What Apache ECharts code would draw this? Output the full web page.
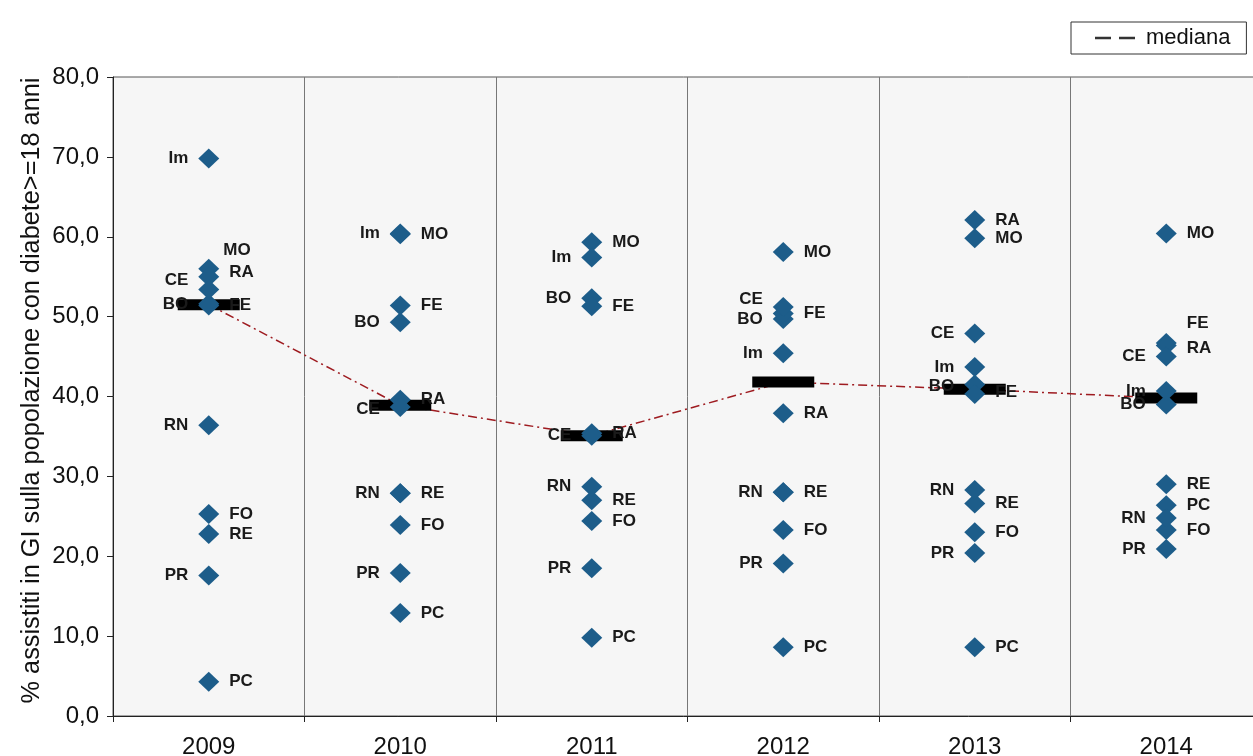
<!DOCTYPE html>
<html>
<head>
<meta charset="utf-8">
<script src="https://cdn.jsdelivr.net/npm/echarts@6/dist/echarts.min.js"></script>
<style>
html,body{margin:0;padding:0;background:#fff;overflow:hidden;}
#chart{width:1253px;height:756px;}
</style>
</head>
<body>
<div id="chart"></div>
<script>
// ---- data ----
const years = ['2009', '2010', '2011', '2012', '2013', '2014'];
const provinces = ['PC', 'PR', 'RE', 'MO', 'BO', 'Im', 'FE', 'RA', 'FO', 'CE', 'RN'];
const valPC = [4.3, 12.9, 9.8, 8.6, 8.6, 26.4];
const valPR = [17.6, 17.9, 18.5, 19.1, 20.4, 20.9];
const valRE = [22.8, 27.9, 27.0, 28.0, 26.6, 29.0];
const valMO = [56.0, 60.3, 59.3, 58.1, 59.8, 60.4];
const valBO = [51.6, 49.3, 52.3, 49.7, 41.5, 39.0];
const valIm = [69.8, 60.4, 57.4, 45.4, 43.7, 40.7];
const valFE = [51.4, 51.4, 51.3, 50.4, 40.3, 46.7];
const valRA = [55.0, 39.6, 35.4, 37.9, 62.1, 46.4];
const valFO = [25.3, 23.9, 24.4, 23.3, 23.0, 23.3];
const valCE = [53.4, 38.7, 35.1, 51.2, 47.9, 45.0];
const valRN = [36.4, 27.9, 28.7, 28.0, 28.3, 24.8];
const mediana = [51.5, 38.9, 35.1, 41.8, 40.9, 39.8];
const yTicks = [0, 10, 20, 30, 40, 50, 60, 70, 80];

const values = {PC: valPC, PR: valPR, RE: valRE, MO: valMO, BO: valBO, Im: valIm,
  FE: valFE, RA: valRA, FO: valFO, CE: valCE, RN: valRN};

// ---- label layout (side of the point, optional offset) ----
const L = 'left', R = 'right';
const labelSide = {
  PC: [R, R, R, R, R, R],
  PR: [L, L, L, L, L, L],
  RE: [R, R, R, R, R, R],
  MO: [R, R, R, R, R, R],
  BO: [L, L, L, L, L, L],
  Im: [L, L, L, L, L, L],
  FE: [R, R, R, R, R, R],
  RA: [R, R, R, R, R, R],
  FO: [R, R, R, R, R, R],
  CE: [L, L, L, L, L, L],
  RN: [L, L, L, L, L, L]
};
const labelOffset = {
  'MO-0': [-6, -18], 'RA-0': [0, -4], 'CE-0': [0, -9],
  'CE-3': [0, -8], 'FE-4': [0, -2], 'FE-5': [0, -20], 'RA-5': [0, 3],
  'BO-4': [0, 2], 'CE-1': [0, 2]
};

const font = '"Liberation Sans", Arial, sans-serif';

const scatterSeries = provinces.map(p => ({
  name: p,
  type: 'scatter',
  z: 3,
  symbol: 'diamond',
  symbolSize: [21, 20],
  itemStyle: {color: '#1d5d8a', opacity: 1},
  label: {
    show: true,
    formatter: p,
    fontFamily: font,
    fontWeight: 'bold',
    fontSize: 17,
    color: '#1a1a1a',
    distance: 10
  },
  data: values[p].map((v, i) => ({
    value: [i, v],
    label: {
      position: labelSide[p][i],
      offset: labelOffset[p + '-' + i] || [0, 0]
    }
  }))
}));

const chart = echarts.init(document.getElementById('chart'));
chart.setOption({
  animation: false,
  backgroundColor: '#ffffff',
  legend: {
    data: [{name: 'mediana', icon: 'path://M0,0 h16 v2.5 h-16 z M24,0 h16 v2.5 h-16 z'}],
    left: 1071,
    top: 22,
    itemWidth: 40,
    itemHeight: 3,
    itemGap: 10,
    borderColor: '#333',
    borderWidth: 1,
    backgroundColor: '#fff',
    padding: [5, 16, 5, 24],
    itemStyle: {color: '#333'},
    textStyle: {fontFamily: font, fontSize: 22, color: '#111', padding: [0, 0, 0, 6]}
  },
  grid: {
    left: 113, top: 77, bottom: 40, width: 1149,
    outerBoundsMode: 'none',
    containLabel: false,
    show: true,
    backgroundColor: '#f6f6f6',
    borderColor: '#555',
    borderWidth: 1
  },
  xAxis: {
    type: 'category',
    data: years,
    boundaryGap: true,
    axisLine: {lineStyle: {color: '#222', width: 1}},
    axisTick: {show: true, length: 6, lineStyle: {color: '#222'}},
    splitLine: {show: true, lineStyle: {color: '#777', width: 1}},
    axisLabel: {fontFamily: font, fontSize: 24, color: '#111', margin: 19}
  },
  yAxis: {
    type: 'value',
    min: yTicks[0],
    max: yTicks[yTicks.length - 1],
    interval: 10,
    name: '% assistiti in GI sulla popolazione con diabete>=18 anni',
    nameLocation: 'middle',
    nameRotate: 90,
    nameGap: 68,
    nameMoveOverlap: false,
    nameTextStyle: {fontFamily: font, fontSize: 25.3, color: '#111', padding: [0, 0, 0, 12]},
    axisLine: {show: true, lineStyle: {color: '#222', width: 1}},
    axisTick: {show: true, length: 6, lineStyle: {color: '#222'}},
    splitLine: {show: false},
    axisLabel: {
      fontFamily: font, fontSize: 24, color: '#111', margin: 14,
      formatter: v => v.toFixed(1).replace('.', ',')
    }
  },
  series: [
    {
      name: 'mediana',
      type: 'line',
      z: 2,
      data: mediana,
      symbol: 'rect',
      symbolSize: [62, 11],
      itemStyle: {color: '#000'},
      lineStyle: {color: '#9e1b20', width: 1.5, type: [9, 4, 2, 4]},
      label: {show: false}
    }
  ].concat(scatterSeries)
});
</script>
</body>
</html>
